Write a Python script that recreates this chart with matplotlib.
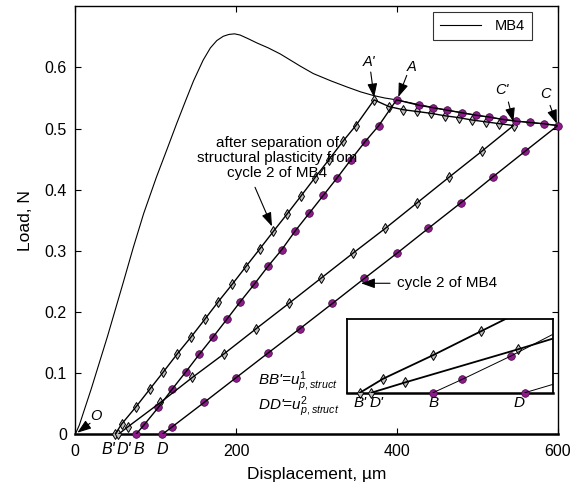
import matplotlib
matplotlib.use('Agg')
import matplotlib.pyplot as plt

plt.rcParams['font.family'] = ['Liberation Sans', 'DejaVu Sans']
plt.rcParams['mathtext.fontset'] = 'custom'
plt.rcParams['mathtext.rm'] = 'Liberation Sans'
plt.rcParams['mathtext.it'] = 'Liberation Sans:italic'

# MB4 monotonic curve
mb4_x = [0, 5, 20, 40, 60, 72, 85, 101, 114, 126, 137, 147, 159, 168, 176, 184,
         191, 198, 205, 215, 226, 240, 255, 280, 296, 318, 338, 355, 371, 385, 399.5,
         428, 463, 498, 532, 566, 600]
mb4_y = [0, 0.015, 0.075, 0.16, 0.25, 0.305, 0.361, 0.421, 0.466, 0.508, 0.545,
         0.578, 0.612, 0.632, 0.644, 0.651, 0.654, 0.655, 0.653, 0.647, 0.640,
         0.632, 0.622, 0.602, 0.590, 0.578, 0.568, 0.560, 0.554, 0.550, 0.547,
         0.539, 0.530, 0.522, 0.515, 0.510, 0.505]

# cycle 2 of MB4 (B -> A -> C -> D)
cyc_x = [75.5, 85.9, 103.3, 120.3, 137.4, 154.3, 171.3, 188.4, 205.3, 222.3,
         239.8, 256.8, 273.7, 291.2, 308.6, 326.0, 342.7, 360.0, 377.5, 399.5,
         428, 445.4, 462.8, 480.3, 497.7, 514.3, 531.8, 548.3, 565.8, 582.3, 600,
         559.5, 519.3, 479.9, 439.2, 399.9, 359.6, 319.8, 279.6, 239.8, 199.9,
         160.1, 120.3, 108.3]
cyc_y = [0, 0.016, 0.044, 0.0735, 0.102, 0.131, 0.159, 0.188, 0.217, 0.245,
         0.275, 0.302, 0.333, 0.362, 0.391, 0.420, 0.449, 0.478, 0.505, 0.547,
         0.538, 0.534, 0.530, 0.526, 0.522, 0.519, 0.515, 0.512, 0.510, 0.508, 0.505,
         0.463, 0.421, 0.379, 0.337, 0.296, 0.255, 0.214, 0.173, 0.133, 0.0925,
         0.052, 0.012, 0]

# after separation of structural plasticity (B' -> A' -> C' -> D')
sep_x = [49.4, 57.7, 75.5, 92.5, 109.5, 126.5, 143.9, 161.0, 177.9, 195.3,
         212.0, 229.6, 246.4, 263.8, 280.8, 298.2, 315.3, 332.7, 348.9, 371.6,
         390.2, 407.3, 424.8, 442.2, 459.6, 476.6, 493.6, 511.0, 527.5, 545.0,
         505.6, 465.3, 425.5, 385.7, 345.1, 305.3, 265.5, 225.2, 185.4, 145.6,
         105.8, 65.6, 53.5]
sep_y = [0, 0.0168, 0.045, 0.0735, 0.102, 0.131, 0.159, 0.188, 0.217, 0.2456,
         0.274, 0.3035, 0.332, 0.361, 0.390, 0.420, 0.449, 0.479, 0.505, 0.547,
         0.536, 0.531, 0.528, 0.525, 0.521, 0.518, 0.514, 0.511, 0.508, 0.505,
         0.463, 0.421, 0.379, 0.337, 0.296, 0.255, 0.214, 0.173, 0.132, 0.093,
         0.052, 0.0124, 0]

purple = '#8e1a8c'


def inside(xs, ys, xlim, ylim):
    keep = [(x, y) for x, y in zip(xs, ys)
            if xlim[0] <= x <= xlim[1] and ylim[0] <= y <= ylim[1]]
    return [k[0] for k in keep], [k[1] for k in keep]


def draw_series(ax, lw_cyc, lw_sep, xlim, ylim):
    # markers first, lines on top of them
    sx, sy = inside(sep_x, sep_y, xlim, ylim)
    cx, cy = inside(cyc_x, cyc_y, xlim, ylim)
    ax.plot(sx, sy, ls='none', marker='d', ms=5.2, mfc='#c0c0c0',
            mec='k', mew=0.7, zorder=3, clip_on=False)
    ax.plot(sep_x, sep_y, color='k', lw=lw_sep, zorder=4)
    ax.plot(cx, cy, ls='none', marker='o', ms=5.5, mfc=purple,
            mec='#3a0a3a', mew=0.5, zorder=3, clip_on=False)
    ax.plot(cyc_x, cyc_y, color='k', lw=lw_cyc, zorder=4)
    ax.set_xlim(*xlim)
    ax.set_ylim(*ylim)


fig = plt.figure(figsize=(5.81, 4.9), dpi=100)
ax = fig.add_axes([0.1296, 0.1137, 0.8304, 0.8734])

ax.plot(mb4_x, mb4_y, color='k', lw=0.8, label='MB4', zorder=2)
draw_series(ax, 1.0, 1.0, (0, 600), (0, 0.7))

ax.set_xticks([0, 200, 400, 600])
ax.set_yticks([0, 0.1, 0.2, 0.3, 0.4, 0.5, 0.6])
ax.set_yticklabels(['0', '0.1', '0.2', '0.3', '0.4', '0.5', '0.6'])
ax.tick_params(direction='in', length=4, width=0.8, top=True, right=True,
               labelsize=11.5)
ax.tick_params(axis='x', pad=7)
ax.tick_params(axis='y', pad=6)
for s in ax.spines.values():
    s.set_linewidth(1.0)
ax.spines['bottom'].set_linewidth(1.8)
ax.set_xlabel('Displacement, µm', fontsize=12.5, labelpad=6)
ax.set_ylabel('Load, N', fontsize=12.5, labelpad=8)

leg = ax.legend(loc='upper right', bbox_to_anchor=(0.946, 0.987), borderaxespad=0,
                fancybox=False, edgecolor='k', fontsize=10.5, handlelength=2.8,
                borderpad=0.5, handletextpad=0.9)
leg.get_frame().set_linewidth(0.8)

arrow = dict(arrowstyle='-|>,head_length=0.7,head_width=0.25', color='k',
             lw=0.8, shrinkA=0, shrinkB=0, mutation_scale=12)

# point labels with arrows
ax.text(365.7, 0.609, "A'", fontsize=10.5, style='italic', ha='center', va='center')
ax.annotate('', xy=(371.6, 0.551), xytext=(367.4, 0.5925), arrowprops=arrow)
ax.text(418.4, 0.600, 'A', fontsize=10.5, style='italic', ha='center', va='center')
ax.annotate('', xy=(401.7, 0.5516), xytext=(412.2, 0.587), arrowprops=arrow)
ax.text(530.3, 0.5626, "C'", fontsize=10.5, style='italic', ha='center', va='center')
ax.annotate('', xy=(544.8, 0.511), xytext=(538.6, 0.5435), arrowprops=arrow)
ax.text(585.1, 0.557, 'C', fontsize=10.5, style='italic', ha='center', va='center')
ax.annotate('', xy=(598.8, 0.508), xytext=(590.4, 0.538), arrowprops=arrow)
ax.text(25.9, 0.0304, 'O', fontsize=10.5, style='italic', ha='center', va='center')
ax.annotate('', xy=(2.5, 0.0026), xytext=(18.3, 0.018), arrowprops=arrow)

ax.text(251, 0.452, 'after separation of\nstructural plasticity from\ncycle 2 of MB4',
        fontsize=11, ha='center', va='center', linespacing=1.1)
ax.annotate('', xy=(244.6, 0.34), xytext=(223.5, 0.404), arrowprops=arrow)

ax.text(399.8, 0.247, 'cycle 2 of MB4', fontsize=11, ha='left', va='center')
ax.annotate('', xy=(355.3, 0.247), xytext=(391.4, 0.247), arrowprops=arrow)

# labels under the axis
for lx, lt in [(41, "B'"), (59.7, "D'"), (78.4, 'B'), (108.7, 'D')]:
    ax.text(lx, -0.0257, lt, fontsize=11.5, style='italic', ha='center',
            va='center', clip_on=False)

ax.text(227, 0.0806, r"BB'=$u^{1}_{p,struct}$", fontsize=11, style='italic',
        va='baseline')
ax.text(227, 0.0397, r"DD'=$u^{2}_{p,struct}$", fontsize=11, style='italic',
        va='baseline')

# inset zoom near the origin
ins = fig.add_axes([0.5967, 0.1986, 0.3546, 0.1498])
draw_series(ins, 0.7, 1.3, (44.65, 118.2), (0, 0.088))
ins.set_xticks([])
ins.set_yticks([])
for s in ins.spines.values():
    s.set_linewidth(1.3)
ins.spines['bottom'].set_linewidth(1.8)
for lx, lt in [(49.4, "B'"), (55.4, "D'"), (75.5, 'B'), (106.0, 'D')]:
    ins.text(lx, -0.0124, lt, fontsize=11, style='italic', ha='center',
             va='center', clip_on=False)

fig.savefig('out.png', dpi=100)
